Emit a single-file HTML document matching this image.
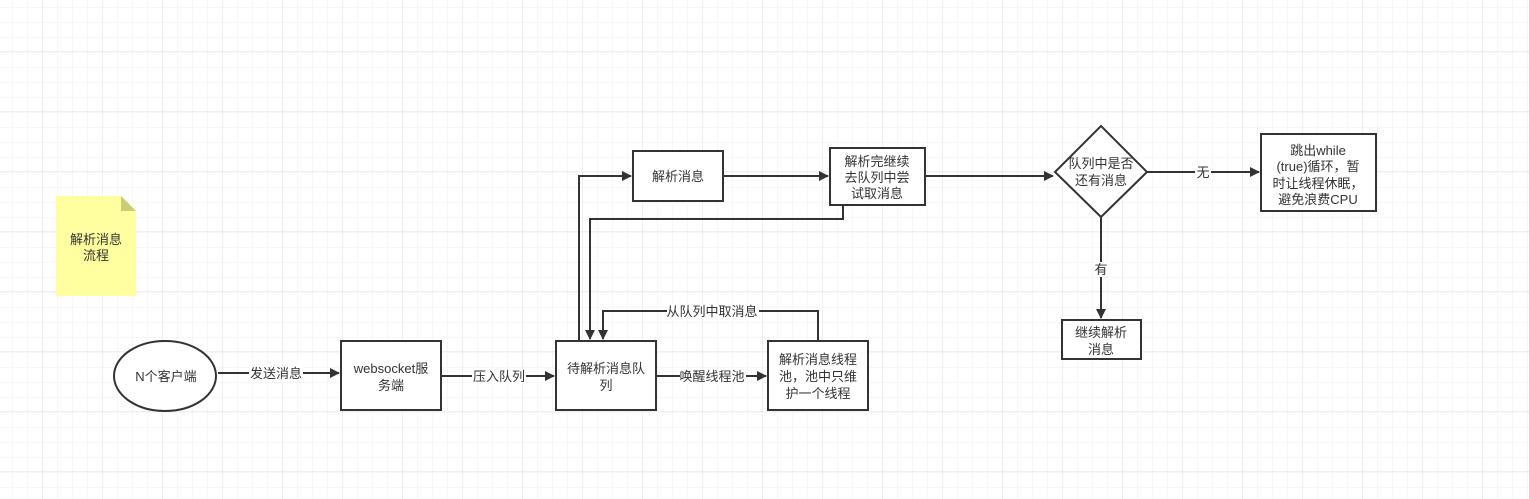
<!DOCTYPE html>
<html><head><meta charset="utf-8"><style>
html,body{margin:0;padding:0;background:#fff;}
svg{display:block;}
text{font-family:"Liberation Sans","Noto Sans CJK SC",sans-serif;font-size:13px;fill:#333;}
</style></head><body>
<svg width="1529" height="499" viewBox="0 0 1529 499" xmlns="http://www.w3.org/2000/svg">
<defs>
<pattern id="minor" x="12" y="7" width="15" height="15" patternUnits="userSpaceOnUse">
<path d="M0 0H15M0 0V15" stroke="#efefef" stroke-width="1" fill="none"/>
</pattern>
<pattern id="major" x="42" y="51" width="60" height="60" patternUnits="userSpaceOnUse">
<path d="M0 0H60M0 0V60" stroke="#e2e2e2" stroke-width="1" fill="none"/>
</pattern>
<marker id="a" markerWidth="10" markerHeight="10" refX="9" refY="5" orient="auto" markerUnits="userSpaceOnUse">
<path d="M0 0L10 5L0 10z" fill="#333"/>
</marker>
</defs>
<rect width="1529" height="499" fill="#fff"/>
<rect width="1529" height="499" fill="url(#minor)"/>
<rect width="1529" height="499" fill="url(#major)"/>

<!-- note -->
<path d="M56 196H121L136 211V296H56Z" fill="#ffff9f"/>
<path d="M121 196L136 211H121Z" fill="#cccc77"/>
<text x="96" y="244" text-anchor="middle">解析消息</text>
<text x="96" y="260" text-anchor="middle">流程</text>

<g stroke="#333" stroke-width="2" fill="none">
<ellipse cx="165" cy="376" rx="51" ry="35" fill="#fff"/>
<rect x="341" y="341" width="100" height="69" fill="#fff"/>
<rect x="556" y="341" width="100" height="69" fill="#fff"/>
<rect x="768" y="341" width="100" height="69" fill="#fff"/>
<rect x="633" y="151" width="90" height="50" fill="#fff"/>
<rect x="830" y="148" width="95" height="57" fill="#fff"/>
<path d="M1101 126L1147 172L1101 217L1055 172Z" fill="#fff"/>
<rect x="1261" y="134" width="115" height="77" fill="#fff"/>
<rect x="1062" y="320" width="79" height="39" fill="#fff"/>

<path d="M218 373H339" marker-end="url(#a)"/>
<path d="M441 376H554" marker-end="url(#a)"/>
<path d="M656 376H766" marker-end="url(#a)"/>
<path d="M818 341V311H603V339" marker-end="url(#a)"/>
<path d="M579 341V176H631" marker-end="url(#a)"/>
<path d="M723 176H828" marker-end="url(#a)"/>
<path d="M843 205V219H590V339" marker-end="url(#a)"/>
<path d="M925 176H1053" marker-end="url(#a)"/>
<path d="M1147 172H1259" marker-end="url(#a)"/>
<path d="M1101 217V318" marker-end="url(#a)"/>
</g>

<!-- edge labels -->
<g>
<rect x="249" y="366" width="54" height="15" fill="#fff"/>
<text x="276" y="378" text-anchor="middle">发送消息</text>
<rect x="472" y="369" width="54" height="15" fill="#fff"/>
<text x="499" y="381" text-anchor="middle">压入队列</text>
<rect x="680" y="369" width="66" height="15" fill="#fff"/>
<text x="712" y="381" text-anchor="middle">唤醒线程池</text>
<rect x="667" y="304" width="92" height="15" fill="#fff"/>
<text x="712" y="316" text-anchor="middle">从队列中取消息</text>
<rect x="1195" y="165" width="16" height="15" fill="#fff"/>
<text x="1203" y="177" text-anchor="middle">无</text>
<rect x="1093" y="262" width="16" height="15" fill="#fff"/>
<text x="1101" y="274" text-anchor="middle">有</text>
</g>

<!-- node labels -->
<text x="166" y="381" text-anchor="middle">N个客户端</text>
<text x="391" y="373" text-anchor="middle">websocket服</text>
<text x="391" y="390" text-anchor="middle">务端</text>
<text x="606" y="373" text-anchor="middle">待解析消息队</text>
<text x="606" y="390" text-anchor="middle">列</text>
<text x="818" y="364" text-anchor="middle">解析消息线程</text>
<text x="818" y="381" text-anchor="middle">池，池中只维</text>
<text x="818" y="398" text-anchor="middle">护一个线程</text>
<text x="678" y="181" text-anchor="middle">解析消息</text>
<text x="877" y="166" text-anchor="middle">解析完继续</text>
<text x="877" y="182" text-anchor="middle">去队列中尝</text>
<text x="877" y="198" text-anchor="middle">试取消息</text>
<text x="1101" y="168" text-anchor="middle">队列中是否</text>
<text x="1101" y="185" text-anchor="middle">还有消息</text>
<text x="1318" y="155" text-anchor="middle">跳出while</text>
<text x="1318" y="171" text-anchor="middle">(true)循环，暂</text>
<text x="1318" y="188" text-anchor="middle">时让线程休眠，</text>
<text x="1318" y="204" text-anchor="middle">避免浪费CPU</text>
<text x="1101" y="337" text-anchor="middle">继续解析</text>
<text x="1101" y="354" text-anchor="middle">消息</text>
</svg>
</body></html>
